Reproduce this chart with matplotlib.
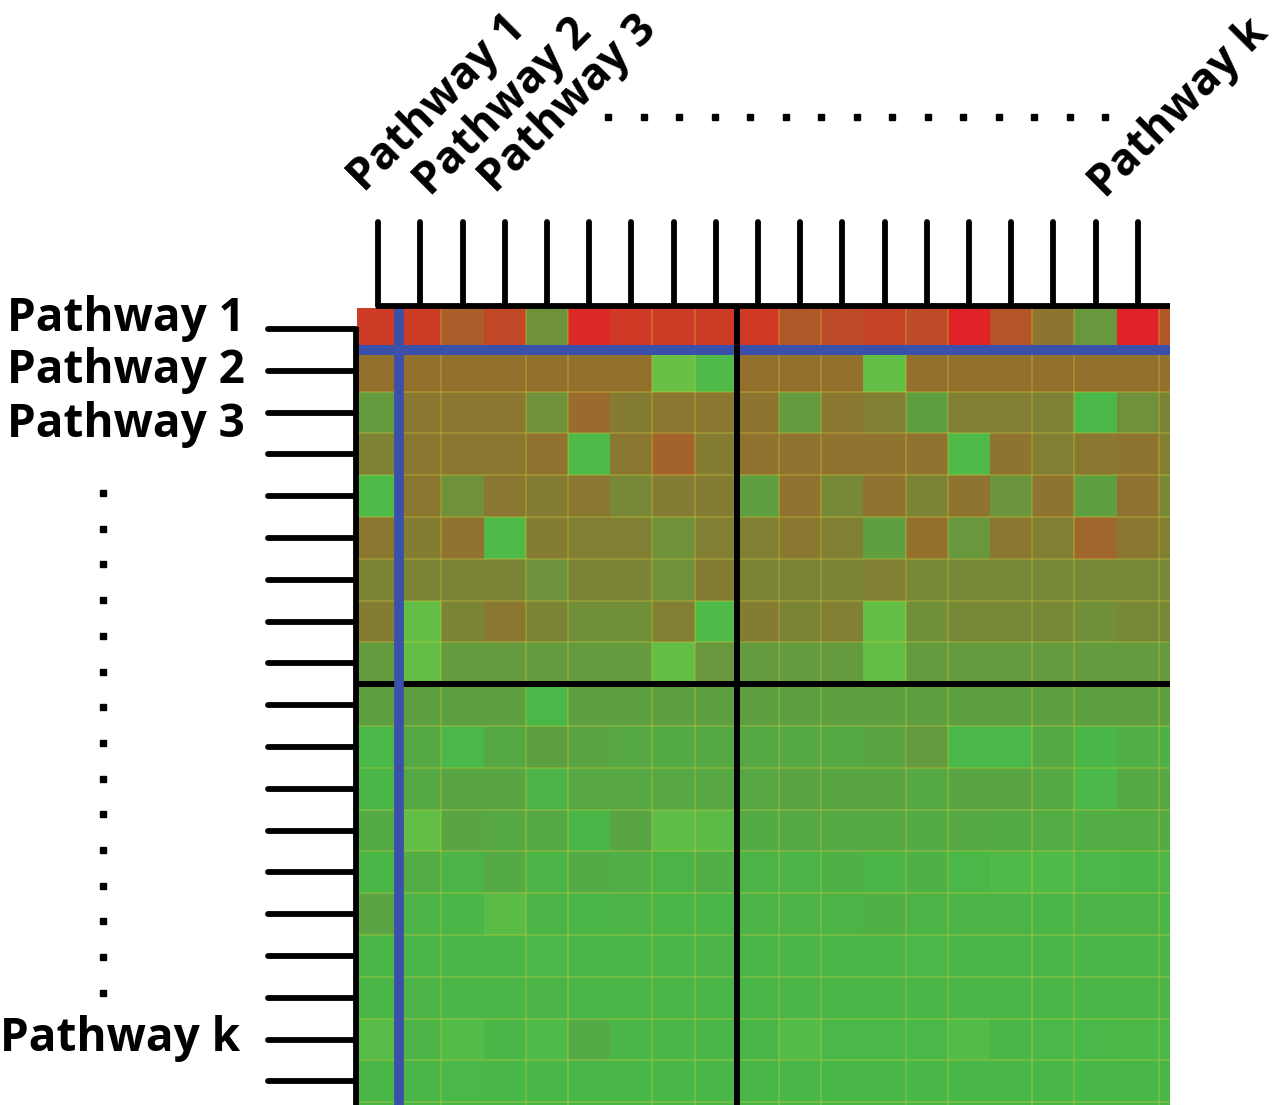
import numpy as np
import matplotlib
matplotlib.use("Agg")
import matplotlib.pyplot as plt
from matplotlib.colors import LinearSegmentedColormap

# ---------------- data ----------------
row_labels = ["Pathway 1", "Pathway 2", "Pathway 3", "Pathway k"]
col_labels = ["Pathway 1", "Pathway 2", "Pathway 3", "Pathway k"]

# cell values: 0 = low (green) ... 0.5 = middle (brown) ... 1 = high (red)
r00 = [0.85, 0.85, 0.65, 0.78, 0.35, 0.97, 0.87, 0.85, 0.85, 0.87, 0.68, 0.76, 0.80, 0.76, 1.00, 0.70, 0.52, 0.32, 1.00, 0.70]
r01 = [0.55, 0.55, 0.55, 0.55, 0.55, 0.55, 0.55, 0.00, 0.08, 0.55, 0.55, 0.55, 0.02, 0.55, 0.55, 0.55, 0.55, 0.55, 0.55, 0.55]
r02 = [0.30, 0.50, 0.50, 0.50, 0.35, 0.58, 0.47, 0.50, 0.50, 0.52, 0.30, 0.50, 0.45, 0.28, 0.45, 0.45, 0.43, 0.10, 0.35, 0.42]
r03 = [0.43, 0.50, 0.50, 0.50, 0.53, 0.08, 0.50, 0.62, 0.47, 0.53, 0.53, 0.53, 0.53, 0.53, 0.08, 0.52, 0.45, 0.50, 0.52, 0.45]
r04 = [0.08, 0.50, 0.35, 0.50, 0.47, 0.50, 0.40, 0.47, 0.47, 0.28, 0.53, 0.40, 0.53, 0.42, 0.52, 0.33, 0.52, 0.27, 0.53, 0.40]
r05 = [0.50, 0.47, 0.53, 0.08, 0.47, 0.45, 0.45, 0.35, 0.45, 0.45, 0.50, 0.45, 0.28, 0.55, 0.32, 0.50, 0.45, 0.60, 0.50, 0.45]
r06 = [0.42, 0.42, 0.42, 0.42, 0.34, 0.42, 0.42, 0.35, 0.47, 0.42, 0.42, 0.42, 0.45, 0.40, 0.40, 0.40, 0.40, 0.40, 0.40, 0.40]
r07 = [0.47, 0.02, 0.42, 0.50, 0.42, 0.37, 0.37, 0.45, 0.08, 0.47, 0.42, 0.45, 0.02, 0.37, 0.40, 0.40, 0.40, 0.37, 0.40, 0.40]
r08 = [0.30, 0.02, 0.30, 0.30, 0.30, 0.30, 0.30, 0.02, 0.32, 0.30, 0.30, 0.30, 0.02, 0.30, 0.30, 0.30, 0.30, 0.30, 0.30, 0.30]
r09 = [0.27, 0.27, 0.27, 0.27, 0.10, 0.27, 0.27, 0.27, 0.27, 0.27, 0.27, 0.27, 0.27, 0.27, 0.27, 0.27, 0.27, 0.27, 0.27, 0.27]
r10 = [0.10, 0.22, 0.10, 0.22, 0.27, 0.25, 0.22, 0.20, 0.22, 0.22, 0.22, 0.22, 0.24, 0.30, 0.10, 0.10, 0.22, 0.12, 0.17, 0.15]
r11 = [0.12, 0.22, 0.24, 0.24, 0.13, 0.23, 0.23, 0.23, 0.23, 0.23, 0.25, 0.24, 0.24, 0.22, 0.24, 0.24, 0.22, 0.10, 0.22, 0.22]
r12 = [0.20, 0.03, 0.24, 0.22, 0.22, 0.12, 0.24, 0.04, 0.05, 0.20, 0.22, 0.22, 0.22, 0.20, 0.22, 0.20, 0.18, 0.18, 0.18, 0.20]
r13 = [0.12, 0.18, 0.14, 0.20, 0.13, 0.20, 0.17, 0.13, 0.17, 0.14, 0.14, 0.15, 0.12, 0.15, 0.10, 0.08, 0.08, 0.10, 0.12, 0.10]
r14 = [0.25, 0.13, 0.12, 0.05, 0.13, 0.12, 0.14, 0.12, 0.12, 0.13, 0.13, 0.14, 0.16, 0.13, 0.13, 0.13, 0.12, 0.13, 0.13, 0.12]
r15 = [0.12, 0.12, 0.12, 0.12, 0.10, 0.12, 0.12, 0.12, 0.13, 0.12, 0.12, 0.12, 0.12, 0.10, 0.12, 0.12, 0.12, 0.12, 0.12, 0.12]
r16 = [0.12, 0.13, 0.12, 0.12, 0.13, 0.12, 0.12, 0.12, 0.12, 0.12, 0.12, 0.12, 0.12, 0.12, 0.12, 0.12, 0.12, 0.12, 0.12, 0.12]
r17 = [0.06, 0.13, 0.07, 0.12, 0.08, 0.20, 0.12, 0.12, 0.12, 0.12, 0.07, 0.10, 0.10, 0.10, 0.07, 0.12, 0.10, 0.10, 0.09, 0.09]
r18 = [0.12, 0.12, 0.10, 0.11, 0.11, 0.11, 0.11, 0.11, 0.11, 0.11, 0.11, 0.11, 0.11, 0.11, 0.11, 0.11, 0.11, 0.11, 0.11, 0.11]
r19 = [0.11, 0.11, 0.11, 0.11, 0.11, 0.11, 0.11, 0.11, 0.11, 0.11, 0.11, 0.11, 0.11, 0.11, 0.11, 0.11, 0.11, 0.11, 0.11, 0.11]

# cluster / selection separators (cell boundaries)
cluster_row_split = 9
cluster_col_split = 9
selected_row = 1
selected_col = 1

values = np.array([r00, r01, r02, r03, r04, r05, r06, r07, r08, r09,
                   r10, r11, r12, r13, r14, r15, r16, r17, r18, r19])
nrow, ncol = values.shape

# ---------------- style ----------------
cmap = LinearSegmentedColormap.from_list("rg", [
    (0.00, "#6ac045"),
    (0.10, "#48b848"),
    (0.25, "#5aa443"),
    (0.35, "#6e913a"),
    (0.45, "#807f33"),
    (0.55, "#94702d"),
    (0.70, "#b45528"),
    (0.85, "#cd3c26"),
    (1.00, "#e12328"),
])

FONT = ["Open Sans", "DejaVu Sans"]
W, H = 1280, 1105
fig = plt.figure(figsize=(W / 100, H / 100), dpi=100)
fig.patch.set_facecolor("white")

# heatmap placement (pixels)
x0, x1, y0, y1 = 357, 1170, 308, 1105
cw, rh = 42.2, 41.8
ax = fig.add_axes([x0 / W, 1 - y1 / H, (x1 - x0) / W, (y1 - y0) / H])
ax.pcolormesh(np.arange(ncol + 1), np.arange(nrow + 1), values, cmap=cmap,
              vmin=0, vmax=1, shading="flat", antialiased=False, edgecolors="none")
xmax = (x1 - x0) / cw
ymax = (y1 - y0) / rh
ax.set_xlim(0, xmax)
ax.set_ylim(ymax, 0)
ax.axis("off")

# faint resampling seams
seam_cols = [2, 4, 5, 7, 8, 10, 11, 13, 14, 16, 17, 19]
for c in seam_cols:
    ax.axvline(c, color="#d8cf3a", lw=1.1, alpha=0.35, zorder=2)
for r in range(1, nrow):
    ax.axhline(r, color="#d8cf3a", lw=1.1, alpha=0.35, zorder=2)

blue = "#3b50a8"
ax.axhline(selected_row, color=blue, lw=7.2, zorder=3)
ax.axvline(cluster_col_split, color="black", lw=4.3, zorder=4)
ax.axhline(cluster_row_split, color="black", lw=4.3, zorder=3.5)
ax.axvline(selected_col, color=blue, lw=7.0, zorder=4.5)

# dendrogram-like ticks
lw_t = 4.2
top_tip = -(y0 - 222) / rh
top_bar = -(y0 - 305.5) / rh
for j in range(19):
    ax.plot([j + 0.5, j + 0.5], [top_tip, top_bar], color="black", lw=lw_t,
            solid_capstyle="round", clip_on=False, zorder=5)
ax.plot([0.5 - 0.05, xmax], [top_bar, top_bar], color="black", lw=lw_t,
        solid_capstyle="butt", clip_on=False, zorder=5)

left_tip = -(x0 - 268) / cw
left_bar = -(x0 - 355.5) / cw
for i in range(19):
    ax.plot([left_tip, left_bar], [i + 0.5, i + 0.5], color="black", lw=lw_t,
            solid_capstyle="round", clip_on=False, zorder=5)
ax.plot([left_bar, left_bar], [0.5 - 0.05, ymax], color="black", lw=lw_t,
        solid_capstyle="butt", clip_on=False, zorder=5)

# overlay for annotations in pixel space
ov = fig.add_axes([0, 0, 1, 1], facecolor="none")
ov.set_xlim(0, W)
ov.set_ylim(H, 0)
ov.axis("off")

fs = 33
left_pos = [(245, 318), (245, 370), (245, 424), (240, 1038)]
for lab, (px, py) in zip(row_labels, left_pos):
    ov.text(px, py, lab, ha="right", va="center", fontsize=fs,
            fontweight="bold", family=FONT)

fs_top = 32
top_pos = [(364, 193), (430, 197), (495, 194), (1105, 199)]
for lab, (px, py) in zip(col_labels, top_pos):
    ov.text(px, py, lab, ha="left", va="baseline", rotation=45,
            rotation_mode="anchor", fontsize=fs_top, fontweight="bold", family=FONT)

# ellipsis dots
n_dots = 15
dx = 608 + 35.5 * np.arange(n_dots)
ov.plot(dx, np.full(n_dots, 117), ls="none", marker="s", ms=4.3, color="black")
dy = 493 + 35.7 * np.arange(n_dots)
ov.plot(np.full(n_dots, 103), dy, ls="none", marker="s", ms=4.3, color="black")

fig.savefig("out.png", dpi=100, facecolor="white")
